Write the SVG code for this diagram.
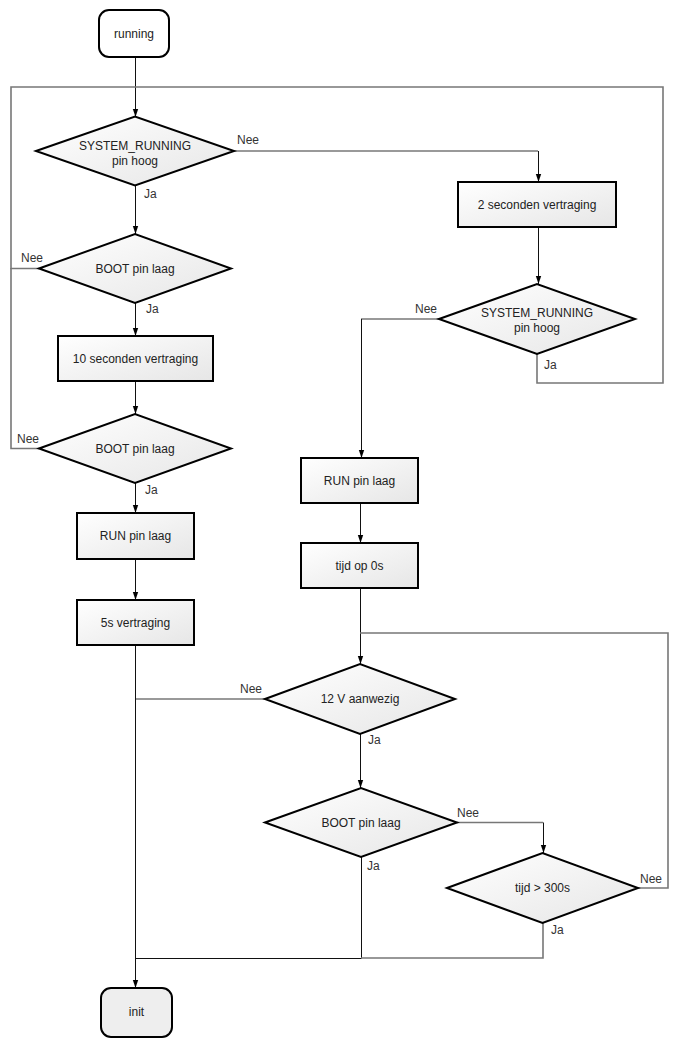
<svg xmlns="http://www.w3.org/2000/svg" width="678" height="1046" viewBox="0 0 678 1046">
<defs>
<linearGradient id="gr" x1="0" y1="0" x2="1" y2="1">
<stop offset="0" stop-color="#ffffff"/>
<stop offset="1" stop-color="#e6e6e6"/>
</linearGradient>
<marker id="ah" markerUnits="userSpaceOnUse" markerWidth="8" markerHeight="12" refX="12" refY="4" orient="auto" viewBox="0 0 12 8">
<path d="M0,0 L12,4 L0,8 Z" fill="#000"/>
</marker>
</defs>
<style>
.n{fill:url(#gr);stroke:#000;stroke-width:2}
.t{font-family:"Liberation Sans",Arial,sans-serif;font-size:12px;fill:#222;text-anchor:middle}
.l{font-family:"Liberation Sans",Arial,sans-serif;font-size:12px;fill:#333}
.c{fill:none;stroke:#111;stroke-width:1}
.g{fill:none;stroke:#777;stroke-width:1.6}
</style>
<rect width="678" height="1046" fill="#fff"/>
<g id="connectors">
<path class="c" d="M135.5,57 V117" marker-end="url(#ah)"/>
<path class="g" d="M39,268.5 H11 V87 H135"/>
<path class="g" d="M39,448.5 H11 V268"/>
<path class="g" d="M537,354 V383 H663 V87 H135"/>
<path class="c" d="M135.5,186 V234" marker-end="url(#ah)"/>
<path class="c" d="M135.5,303 V336" marker-end="url(#ah)"/>
<path class="c" d="M135.5,381 V414" marker-end="url(#ah)"/>
<path class="c" d="M135.5,483 V513" marker-end="url(#ah)"/>
<path class="c" d="M135.5,559 V600" marker-end="url(#ah)"/>
<path class="c" d="M135.5,645 V988" marker-end="url(#ah)"/>
<path class="g" d="M234,151 H538"/>
<path class="c" d="M538.5,151 V182" marker-end="url(#ah)"/>
<path class="c" d="M538.5,227 V284" marker-end="url(#ah)"/>
<path class="g" d="M439,319 H361"/>
<path class="c" d="M361.5,319 V458" marker-end="url(#ah)"/>
<path class="c" d="M360.5,503 V543" marker-end="url(#ah)"/>
<path class="c" d="M360.5,588 V664" marker-end="url(#ah)"/>
<path class="g" d="M638,888 H668 V633 H360"/>
<path class="g" d="M265,699 H136"/>
<path class="c" d="M360.5,734 V788" marker-end="url(#ah)"/>
<path class="g" d="M457,822.5 H543"/>
<path class="c" d="M543.5,822.5 V853" marker-end="url(#ah)"/>
<path class="c" d="M361.5,857 V958.5 H136"/>
<path class="g" d="M543,923 V958 H361"/>
</g>
<g id="labels">
<text class="l" x="237" y="143.5">Nee</text>
<text class="l" x="144" y="198">Ja</text>
<text class="l" x="21" y="262">Nee</text>
<text class="l" x="146" y="313">Ja</text>
<text class="l" x="17" y="443">Nee</text>
<text class="l" x="145" y="494">Ja</text>
<text class="l" x="415" y="312.5">Nee</text>
<text class="l" x="544" y="369">Ja</text>
<text class="l" x="240" y="693">Nee</text>
<text class="l" x="368" y="744">Ja</text>
<text class="l" x="457" y="817">Nee</text>
<text class="l" x="367" y="870">Ja</text>
<text class="l" x="640" y="883">Nee</text>
<text class="l" x="551" y="934">Ja</text>
</g>
<g id="running">
<rect x="99" y="10" width="70" height="47" rx="10" fill="#fff" stroke="#000" stroke-width="2"/>
<text class="t" x="134" y="37.5">running</text>
</g>
<g id="sr1">
<polygon class="n" points="36,151 135,116.5 234,151 135,185.5"/>
<text class="t" x="135" y="150">SYSTEM_RUNNING</text>
<text class="t" x="135" y="164.5">pin hoog</text>
</g>
<g id="boot1">
<polygon class="n" points="39,268.5 135,234 231,268.5 135,303"/>
<text class="t" x="135" y="272.5">BOOT pin laag</text>
</g>
<g id="delay10">
<rect class="n" x="58" y="336" width="155" height="45"/>
<text class="t" x="135.5" y="362.5">10 seconden vertraging</text>
</g>
<g id="boot2">
<polygon class="n" points="39,448.5 135,414 231,448.5 135,483"/>
<text class="t" x="135" y="452.5">BOOT pin laag</text>
</g>
<g id="runlow1">
<rect class="n" x="77" y="513" width="117" height="46"/>
<text class="t" x="135.5" y="540">RUN pin laag</text>
</g>
<g id="delay5">
<rect class="n" x="77" y="600" width="117" height="45"/>
<text class="t" x="135.5" y="627">5s vertraging</text>
</g>
<g id="init">
<rect x="101" y="988" width="71" height="49" rx="10" fill="#eeeeee" stroke="#000" stroke-width="2"/>
<text class="t" x="136.5" y="1016">init</text>
</g>
<g id="delay2">
<rect class="n" x="458" y="182" width="158" height="45"/>
<text class="t" x="537" y="209">2 seconden vertraging</text>
</g>
<g id="sr2">
<polygon class="n" points="439,319 537,284 635,319 537,354"/>
<text class="t" x="537" y="317">SYSTEM_RUNNING</text>
<text class="t" x="537" y="331.5">pin hoog</text>
</g>
<g id="runlow2">
<rect class="n" x="301" y="458" width="117" height="45"/>
<text class="t" x="359.5" y="485">RUN pin laag</text>
</g>
<g id="time0">
<rect class="n" x="301" y="543" width="117" height="45"/>
<text class="t" x="359.5" y="570">tijd op 0s</text>
</g>
<g id="v12">
<polygon class="n" points="265,699 360,664 455,699 360,734"/>
<text class="t" x="360" y="703">12 V aanwezig</text>
</g>
<g id="boot3">
<polygon class="n" points="265,822.5 361,788 457,822.5 361,857"/>
<text class="t" x="361" y="826.5">BOOT pin laag</text>
</g>
<g id="t300">
<polygon class="n" points="447,888 542.5,853 638,888 542.5,923"/>
<text class="t" x="542.5" y="892">tijd &gt; 300s</text>
</g>
</svg>
